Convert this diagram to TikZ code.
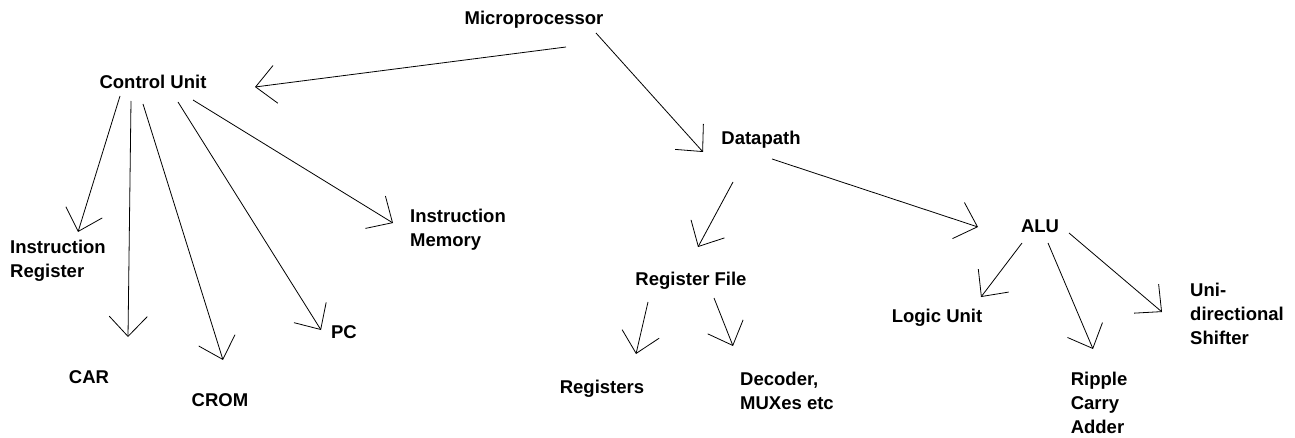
\documentclass[tikz,border=0pt]{standalone}
\usepackage{fontspec}
\setmainfont{Liberation Sans}
\usetikzlibrary{arrows.meta}

\begin{document}
\begin{tikzpicture}[x=1pt,y=-1pt,
unitnode/.style={inner sep=0pt, align=left, font=\bfseries\fontsize{18.5}{24}\selectfont},
linkarrow/.style={-{Straight Barb[length=20pt,width=38pt]}, line width=0.8pt}]
\useasboundingbox[fill=white] (0,0) rectangle (1295,438);

\node[unitnode] (mp) at (534,20) {Microprocessor};
\node[unitnode] (cu) at (153,82) {Control Unit};
\node[unitnode] (dp) at (761,140) {Datapath};
\node[unitnode] (alu) at (1040,226) {ALU};
\node[unitnode] (ir) at (58,261) {Instruction\\Register};
\node[unitnode] (im) at (458,230) {Instruction\\Memory};
\node[unitnode] (car) at (89,377) {CAR};
\node[unitnode] (crom) at (220,400) {CROM};
\node[unitnode] (pc) at (344,332) {PC};
\node[unitnode] (rf) at (691,281) {Register File};
\node[unitnode] (regs) at (602,389) {Registers};
\node[unitnode] (dec) at (787,391) {Decoder,\\MUXes etc};
\node[unitnode] (lu) at (937,318) {Logic Unit};
\node[unitnode] (rca) at (1099,403) {Ripple\\Carry\\Adder};
\node[unitnode] (uds) at (1237,314) {Uni-\\directional\\Shifter};

\draw[linkarrow] ([shift={(32,27)}]mp.center) -- ([shift={(102,5)}]cu.center);
\draw[linkarrow] ([shift={(62,13)}]mp.center) -- ([shift={(-58,12)}]dp.center);
\draw[linkarrow] ([shift={(-28,42)}]dp.center) -- ([shift={(7,-34)}]rf.center);
\draw[linkarrow] ([shift={(11,19)}]dp.center) -- ([shift={(-62,1)}]alu.center);
\draw[linkarrow] ([shift={(-33,14)}]cu.center) -- ([shift={(20,-29)}]ir.center);
\draw[linkarrow] ([shift={(-22,19)}]cu.center) -- ([shift={(39,-40)}]car.center);
\draw[linkarrow] ([shift={(-10,22)}]cu.center) -- ([shift={(3,-40)}]crom.center);
\draw[linkarrow] ([shift={(25,20)}]cu.center) -- ([shift={(-23,-2)}]pc.center);
\draw[linkarrow] ([shift={(40,18)}]cu.center) -- ([shift={(-65,-7)}]im.center);
\draw[linkarrow] ([shift={(-43,21)}]rf.center) -- ([shift={(34,-35)}]regs.center);
\draw[linkarrow] ([shift={(23,17)}]rf.center) -- ([shift={(-54,-45)}]dec.center);
\draw[linkarrow] ([shift={(-18,17)}]alu.center) -- ([shift={(44,-21)}]lu.center);
\draw[linkarrow] ([shift={(8,17)}]alu.center) -- ([shift={(-6,-54)}]rca.center);
\draw[linkarrow] ([shift={(29,7)}]alu.center) -- ([shift={(-75,-2)}]uds.center);
\end{tikzpicture}
\end{document}
